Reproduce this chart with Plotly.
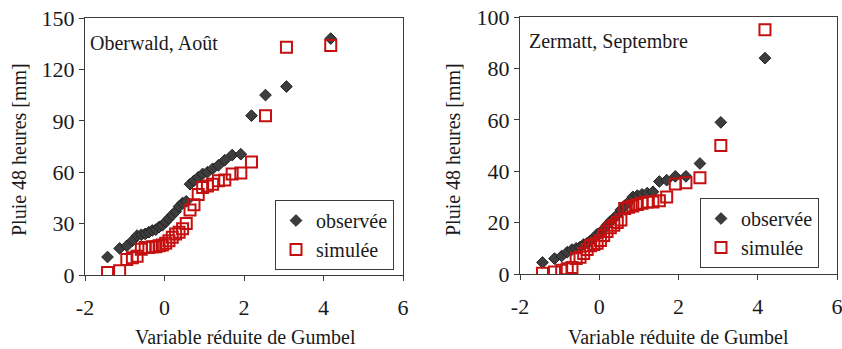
import plotly.graph_objects as go

# Gumbel reduced variate (plotting positions, 33 points)
gumbel_x = [-1.433, -1.129, -0.948, -0.808, -0.689, -0.583, -0.485, -0.393, -0.305, -0.219,
            -0.136, -0.053, 0.030, 0.112, 0.196, 0.280, 0.367, 0.455, 0.547, 0.642,
            0.742, 0.848, 0.960, 1.080, 1.211, 1.356, 1.517, 1.702, 1.920, 2.188,
            2.541, 3.068, 4.182]

oberwald_obs = [10.5, 15.5, 17, 20, 23, 23.5, 24, 25, 26, 26.5,
                28, 29, 31, 33, 35, 37, 40, 42, 43, 53,
                55, 57, 59, 60, 62, 64, 67, 70, 70.5, 93,
                105, 110, 138]
oberwald_sim = [1.5, 2.5, 9, 10, 11, 15, 16, 16, 16.5, 16.5,
                17, 17.5, 18.5, 20, 22, 24, 25, 27, 30, 38,
                41, 47, 51, 52, 53, 55, 55.5, 59, 59.5, 66,
                93, 133, 134]

zermatt_obs = [4.5, 6, 7, 8.5, 9.5, 10, 10.5, 11.5, 12, 13,
               14, 15.5, 16, 17.5, 19, 20.5, 21.5, 23, 25, 26.5,
               28, 30, 30.5, 31, 31.5, 32, 36, 36.5, 38, 38,
               43, 59, 84]
zermatt_sim = [0.3, 0.8, 1.5, 2.0, 2.5, 6, 6.5, 8, 9.5, 11,
               11.5, 12, 13, 15, 16.5, 18, 19, 20, 21, 25.5,
               26, 26.5, 27, 27.5, 28, 28, 28.5, 30, 35, 35.5,
               37.5, 50, 95]

x_ticks = [-2, 0, 2, 4, 6]
x_tick_text = ["-2", "0", "2", "4", "6"]
left_y_ticks = [0, 30, 60, 90, 120, 150]
right_y_ticks = [0, 20, 40, 60, 80, 100]

FONT = "Liberation Serif"
TXT = "#1a1a1a"
AX = "#3c3c3c"
OBS_COLOR = "#3d3d3d"
SIM_COLOR = "#c41010"

W, H = 842, 349
def px(x):
    return x / W
def py(y):
    return (H - y) / H

left_xd = [px(85), px(403)]
left_yd = [py(275), py(18)]
right_xd = [px(520), px(837)]
right_yd = [py(274), py(17)]

fig = go.Figure()

obs_marker = dict(symbol="diamond", size=9, color=OBS_COLOR, line=dict(color="#222222", width=1))
sim_marker = dict(symbol="square-open", size=11, color=SIM_COLOR, line=dict(color=SIM_COLOR, width=2))

fig.add_trace(go.Scatter(x=gumbel_x, y=oberwald_obs, mode="markers", name="observée",
                         marker=obs_marker, xaxis="x", yaxis="y", legend="legend"))
fig.add_trace(go.Scatter(x=gumbel_x, y=oberwald_sim, mode="markers", name="simulée",
                         marker=sim_marker, xaxis="x", yaxis="y", legend="legend"))
fig.add_trace(go.Scatter(x=gumbel_x, y=zermatt_obs, mode="markers", name="observée",
                         marker=obs_marker, xaxis="x2", yaxis="y2", legend="legend2"))
fig.add_trace(go.Scatter(x=gumbel_x, y=zermatt_sim, mode="markers", name="simulée",
                         marker=sim_marker, xaxis="x2", yaxis="y2", legend="legend2"))

tickfont = dict(family=FONT, size=22, color=TXT)

def main_x(domain, anchor):
    return dict(domain=domain, anchor=anchor, range=[-2, 6], tickvals=x_ticks, ticktext=x_tick_text,
                ticks="outside", ticklen=5, tickwidth=1, tickcolor=AX, ticklabelstandoff=8,
                ticklabeloverflow="allow",
                showline=True, linecolor=AX, linewidth=1, mirror=True, automargin=False,
                showgrid=False, zeroline=False, tickfont=tickfont, fixedrange=True)

def main_y(domain, anchor, rng, vals):
    return dict(domain=domain, anchor=anchor, range=rng, tickvals=vals,
                ticks="outside", ticklen=5, tickwidth=1, tickcolor=AX,
                ticklabeloverflow="allow",
                showline=True, linecolor=AX, linewidth=1, mirror=True, automargin=False,
                showgrid=False, zeroline=False, tickfont=tickfont, fixedrange=True)

def over_x(domain, over, anchor):
    return dict(domain=domain, overlaying=over, anchor=anchor, range=[-2, 6], tickvals=x_ticks,
                ticks="inside", ticklen=6, tickwidth=1, tickcolor=AX, showticklabels=False,
                showline=False, showgrid=False, zeroline=False, fixedrange=True, side="bottom",
                automargin=False)

def over_y(domain, over, anchor, rng, vals):
    return dict(domain=domain, overlaying=over, anchor=anchor, range=rng, tickvals=vals,
                ticks="inside", ticklen=6, tickwidth=1, tickcolor=AX, showticklabels=False,
                showline=False, showgrid=False, zeroline=False, fixedrange=True, side="left",
                automargin=False)

legend_common = dict(bgcolor="white", bordercolor=AX, borderwidth=1,
                     font=dict(family=FONT, size=20, color=TXT),
                     itemwidth=30, tracegroupgap=0, xanchor="left", yanchor="top",
                     itemclick=False, itemdoubleclick=False)

fig.update_layout(
    width=W, height=H,
    margin=dict(l=0, r=0, t=0, b=0, autoexpand=False),
    paper_bgcolor="white", plot_bgcolor="white",
    showlegend=True,
    xaxis=main_x(left_xd, "y"),
    yaxis=main_y(left_yd, "x", [0, 150], left_y_ticks),
    xaxis2=main_x(right_xd, "y2"),
    yaxis2=main_y(right_yd, "x2", [0, 100], right_y_ticks),
    xaxis3=over_x(left_xd, "x", "y3"),
    yaxis3=over_y(left_yd, "y", "x3", [0, 150], left_y_ticks),
    xaxis4=over_x(right_xd, "x2", "y4"),
    yaxis4=over_y(right_yd, "y2", "x4", [0, 100], right_y_ticks),
    legend=dict(x=px(275), y=py(200), **legend_common),
    legend2=dict(x=px(700), y=py(198), **legend_common),
)

ann_font = dict(family=FONT, size=20, color=TXT)
annotations = [
    dict(text="Oberwald, Août", x=px(88), y=py(43), xanchor="left", yanchor="middle"),
    dict(text="Zermatt, Septembre", x=px(527), y=py(42), xanchor="left", yanchor="middle"),
    dict(text="Variable réduite de Gumbel", x=px(245), y=py(337), xanchor="center", yanchor="middle"),
    dict(text="Variable réduite de Gumbel", x=px(678), y=py(337), xanchor="center", yanchor="middle"),
    dict(text="Pluie 48 heures [mm]", x=px(19), y=py(150), xanchor="center", yanchor="middle", textangle=-90),
    dict(text="Pluie 48 heures [mm]", x=px(453), y=py(150), xanchor="center", yanchor="middle", textangle=-90),
]
for a in annotations:
    fig.add_annotation(xref="paper", yref="paper", showarrow=False, font=ann_font, **a)

fig.write_html("out.html")
